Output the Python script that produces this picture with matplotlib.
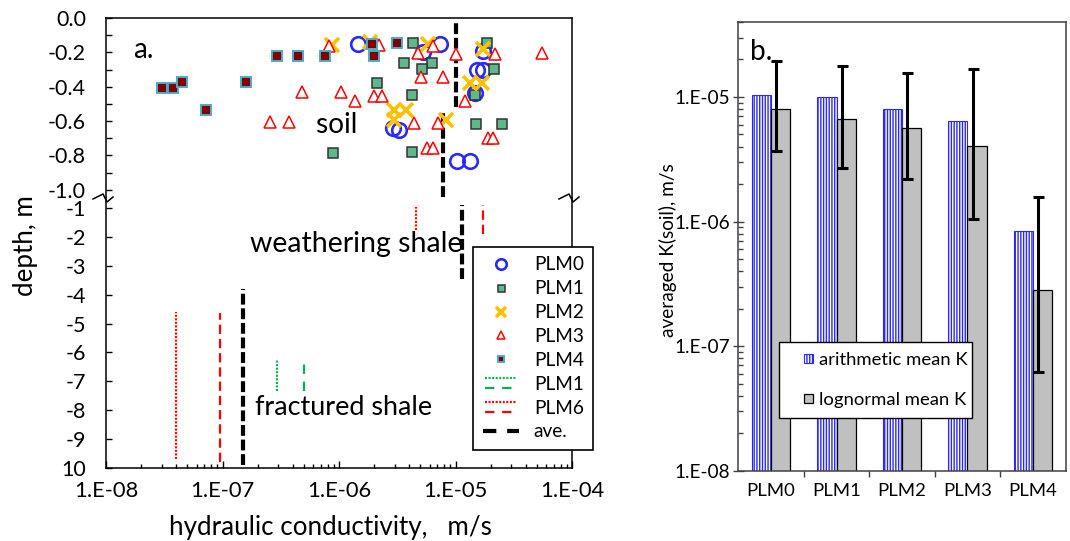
import numpy as np
import matplotlib
matplotlib.use("Agg")
import matplotlib.pyplot as plt
from matplotlib.lines import Line2D
from matplotlib.patches import Patch, Rectangle
from matplotlib.legend_handler import HandlerBase, HandlerPatch
from matplotlib.ticker import LogLocator, FuncFormatter, NullFormatter, FixedLocator

plt.rcParams['font.family'] = ['Lato', 'DejaVu Sans']
plt.rcParams['axes.unicode_minus'] = False
plt.rcParams['hatch.linewidth'] = 1.0

# ---- soil samples: hydraulic conductivity (m/s) and depth (m) ----
plm0_k = [1.47e-6, 5.30e-6, 7.36e-6, 1.73e-5, 1.52e-5, 1.73e-5, 1.47e-5,
          2.92e-6, 3.30e-6, 1.04e-5, 1.33e-5]
plm0_depth = [-0.15, -0.20, -0.15, -0.19, -0.30, -0.30, -0.435,
              -0.64, -0.65, -0.83, -0.83]

plm1_k = [4.30e-6, 3.64e-6, 6.25e-6, 5.13e-6, 2.13e-6, 4.26e-6, 8.93e-7,
          4.26e-6, 1.85e-5, 2.14e-5, 1.47e-5, 1.50e-5, 2.49e-5]
plm1_depth = [-0.147, -0.264, -0.264, -0.297, -0.38, -0.45, -0.785,
              -0.782, -0.147, -0.297, -0.448, -0.62, -0.62]

plm2_k = [8.65e-7, 1.85e-6, 5.85e-6, 1.71e-5, 1.33e-5, 1.68e-5,
          2.96e-6, 3.76e-6, 2.96e-6, 8.37e-6]
plm2_depth = [-0.157, -0.138, -0.151, -0.182, -0.38, -0.38,
              -0.536, -0.536, -0.594, -0.591]

plm3_k = [2.56e-7, 3.72e-7, 4.79e-7, 8.20e-7, 1.05e-6, 1.37e-6, 2.01e-6,
          2.33e-6, 2.22e-6, 4.80e-6, 6.44e-6, 1.01e-5, 2.18e-5, 5.56e-5,
          5.02e-6, 7.76e-6, 1.21e-5, 4.40e-6, 7.11e-6, 5.66e-6, 6.37e-6,
          1.91e-5, 2.11e-5]
plm3_depth = [-0.604, -0.604, -0.433, -0.163, -0.429, -0.483, -0.454,
              -0.454, -0.157, -0.206, -0.163, -0.211, -0.21, -0.206,
              -0.345, -0.345, -0.486, -0.612, -0.612, -0.754, -0.754,
              -0.701, -0.701]

plm4_k = [3.01e-8, 3.74e-8, 4.52e-8, 7.21e-8, 1.58e-7, 2.94e-7, 4.48e-7,
          7.59e-7, 1.91e-6, 2.01e-6, 3.16e-6]
plm4_depth = [-0.406, -0.406, -0.374, -0.536, -0.374, -0.221, -0.221,
              -0.221, -0.151, -0.22, -0.147]

# ---- averaged K over depth intervals ----
soil_ave_k = [1.0e-5, 7.85e-6]
soil_ave_top = [-0.02, -0.54]
soil_ave_bottom = [-0.52, -1.04]

rock_ave_k = [1.14e-5, 1.51e-7]
rock_ave_top = [-0.9, -3.8]
rock_ave_bottom = [-3.45, -9.9]

plm6_dot_k = [4.55e-6, 3.96e-8]
plm6_dot_top = [-0.95, -4.6]
plm6_dot_bottom = [-1.75, -9.7]

plm6_dash_k = [1.73e-5, 9.5e-8]
plm6_dash_top = [-0.9, -4.65]
plm6_dash_bottom = [-1.9, -9.8]

plm1_dot_k = [2.95e-7]
plm1_dash_k = [5.0e-7]
plm1_rock_top = [-6.25]
plm1_rock_bottom = [-7.35]

soil_ticks = [0.0, -0.2, -0.4, -0.6, -0.8, -1.0]
rock_ticks = [-1, -2, -3, -4, -5, -6, -7, -8, -9, -10]
rock_tick_labels = ['-1', '-2', '-3', '-4', '-5', '-6', '-7', '-8', '-9', '10']

# ---- panel b: averaged K(soil) per well ----
wells = ['PLM0', 'PLM1', 'PLM2', 'PLM3', 'PLM4']
arith_mean = [1.04e-5, 1.0e-5, 8.07e-6, 6.38e-6, 8.4e-7]
logn_mean = [8.07e-6, 6.7e-6, 5.68e-6, 4.02e-6, 2.81e-7]
logn_upper = [1.94e-5, 1.77e-5, 1.55e-5, 1.69e-5, 1.58e-6]
logn_lower = [3.71e-6, 2.71e-6, 2.21e-6, 1.05e-6, 6.22e-8]

W, H = 1070, 541
def pt(px):
    return px * 0.72

RED = '#FF0000'
GREEN = '#00B050'
BLUE = '#2A2AF5'
DOT = (0, (0.9, 0.7))
DASH = (0, (4.2, 2.2))
GDASH = (0, (4.2, 3.5))
AVE = (0, (2.6, 0.9))


def sci_label(v, pos):
    return "1.E-%02d" % round(-np.log10(v))


class StackedLines(HandlerBase):
    # two line styles drawn one above the other in a single legend row
    def create_artists(self, legend, orig_handle, xdescent, ydescent,
                       width, height, fontsize, trans):
        mid = -ydescent + height / 2
        out = []
        for (color, ls), dy in zip(orig_handle, (3.8, -3.8)):
            l = Line2D([-xdescent + 2, -xdescent + width - 2], [mid + dy, mid + dy],
                       color=color, linestyle=ls, linewidth=1.6)
            l.set_transform(trans)
            out.append(l)
        return out


def small_square(legend, orig_handle, xdescent, ydescent, width, height, fontsize):
    s = 0.5 * fontsize
    return Rectangle((width - s - xdescent, -ydescent + (height - s) / 2), s, s)


fig = plt.figure(figsize=(W / 100, H / 100), dpi=100)

# ---------------- panel a (broken depth axis) ----------------
ax_soil = fig.add_axes([106 / W, 1 - 198 / H, 466 / W, 180 / H])
ax_rock = fig.add_axes([106 / W, 1 - 468 / H, 466 / W, 270 / H], sharex=ax_soil)

ax_rock.set_xscale('log')
ax_rock.set_xlim(1e-8, 1e-4)
ax_soil.set_ylim(-1.048, 0)
ax_rock.set_ylim(-10, -0.654)

for ax in (ax_soil, ax_rock):
    for s in ax.spines.values():
        s.set_linewidth(1.1)
        s.set_color('black')
ax_soil.spines['bottom'].set_visible(False)
ax_rock.spines['top'].set_visible(False)

h0, = ax_soil.plot(plm0_k, plm0_depth, ls='none', marker='o', ms=10.5,
                   mfc='none', mec=BLUE, mew=1.9, zorder=3)
h1, = ax_soil.plot(plm1_k, plm1_depth, ls='none', marker='s', ms=7,
                   mfc='#5DB98A', mec='#333333', mew=1.1, zorder=3)
h2, = ax_soil.plot(plm2_k, plm2_depth, ls='none', marker='x', ms=10,
                   mec='#FFC000', mew=2.6, zorder=3)
h3, = ax_soil.plot(plm3_k, plm3_depth, ls='none', marker='^', ms=8.5,
                   mfc='white', mec=RED, mew=1.1, zorder=3)
h4, = ax_soil.plot(plm4_k, plm4_depth, ls='none', marker='s', ms=6.5,
                   mfc='#800000', mec='#4BACC6', mew=1.4, zorder=3)

ave_style = dict(colors='black', linewidths=3.0, linestyles=[AVE])
dot_w = 1.6
ax_soil.vlines(soil_ave_k, soil_ave_bottom, soil_ave_top, **ave_style)
ax_rock.vlines(rock_ave_k, rock_ave_bottom, rock_ave_top, **ave_style)
ax_rock.vlines(plm6_dot_k, plm6_dot_bottom, plm6_dot_top, colors=RED,
               linewidths=dot_w, linestyles=[DOT])
ax_rock.vlines(plm6_dash_k, plm6_dash_bottom, plm6_dash_top, colors=RED,
               linewidths=dot_w, linestyles=[DASH])
ax_rock.vlines(plm1_dot_k, plm1_rock_bottom, plm1_rock_top, colors=GREEN,
               linewidths=dot_w, linestyles=[DOT])
ax_rock.vlines(plm1_dash_k, plm1_rock_bottom, plm1_rock_top, colors=GREEN,
               linewidths=dot_w, linestyles=[GDASH])

# ticks
ax_soil.set_yticks(soil_ticks)
ax_soil.set_yticklabels([f"{v:.1f}" for v in soil_ticks])
ax_soil.yaxis.set_minor_locator(FixedLocator(np.arange(-0.9, 0, 0.2)))
ax_soil.tick_params(axis='x', which='both', bottom=False, top=False,
                    labelbottom=False)
ax_rock.set_yticks(rock_ticks)
ax_rock.set_yticklabels(rock_tick_labels)
for ax in (ax_soil, ax_rock):
    ax.tick_params(axis='y', which='both', direction='in', length=pt(6),
                   width=1.0, labelsize=pt(21.5), pad=pt(20))
ax_rock.xaxis.set_major_locator(LogLocator(base=10, numticks=10))
ax_rock.xaxis.set_minor_locator(LogLocator(base=10, subs=np.arange(2, 10), numticks=10))
ax_rock.xaxis.set_major_formatter(FuncFormatter(sci_label))
ax_rock.xaxis.set_minor_formatter(NullFormatter())
ax_rock.tick_params(axis='x', which='major', direction='in', length=pt(7),
                    width=1.0, labelsize=pt(22), pad=pt(13))
ax_rock.tick_params(axis='x', which='minor', direction='in', length=pt(4.5),
                    width=1.0)

# axis break marks
for xpx in (106, 572):
    zx = [xpx - 13, xpx - 3, xpx + 1, xpx + 7]
    zy = [198 + 1, 198 - 4, 198 + 4, 198 - 1]
    fig.add_artist(Line2D([x / W for x in zx], [1 - y / H for y in zy],
                          color='black', lw=1.1, transform=fig.transFigure))

ax_soil.text(0.058, 0.776, 'a.', transform=ax_soil.transAxes, fontsize=pt(28))
ax_soil.text(0.4506, 0.363, 'soil', transform=ax_soil.transAxes, fontsize=pt(28))
ax_rock.text(0.309, 0.80, 'weathering shale', transform=ax_rock.transAxes,
             fontsize=pt(28.5))
ax_rock.text(0.32, 0.196, 'fractured shale', transform=ax_rock.transAxes,
             fontsize=pt(27))

fig.text(25 / W, 1 - 246 / H, 'depth, m', rotation=90, ha='center', va='center',
         fontsize=pt(26))
fig.text(330 / W, 1 - 527 / H, 'hydraulic conductivity,   m/s', ha='center',
         va='center', fontsize=pt(26))

ave_h = Line2D([], [], color='black', lw=3.0, ls=(0, (3.2, 2.6)))
leg = ax_rock.legend([h0, h1, h2, h3, h4,
                      ((GREEN, DOT), (GREEN, GDASH)),
                      ((RED, DOT), (RED, GDASH)), ave_h],
                     ['PLM0', 'PLM1', 'PLM2', 'PLM3', 'PLM4', 'PLM1', 'PLM6', 'ave.'],
                     handler_map={tuple: StackedLines()},
                     loc='upper left', bbox_to_anchor=(473 / W, 1 - 247 / H),
                     bbox_transform=fig.transFigure, borderaxespad=0,
                     fontsize=pt(19), handlelength=1.9, handletextpad=0.8,
                     borderpad=0.5, labelspacing=0.36, fancybox=False,
                     framealpha=1, edgecolor='black', numpoints=1,
                     markerscale=0.72)
leg.get_frame().set_linewidth(1.2)
leg.set_zorder(5)

# ---------------- panel b ----------------
axb = fig.add_axes([738.3 / W, 1 - 470.7 / H, 327.4 / W, 448.7 / H])
x = np.arange(len(wells))
bw = 0.295
axb.bar(x - bw, arith_mean, width=bw, align='edge', color='white',
        edgecolor=BLUE, hatch='||||||', linewidth=0.8, zorder=2)
axb.bar(x, logn_mean, width=bw, align='edge', color='#C0C0C0',
        edgecolor='black', linewidth=0.9, zorder=2)
yerr = [np.array(logn_mean) - np.array(logn_lower),
        np.array(logn_upper) - np.array(logn_mean)]
axb.errorbar(x + 0.08, logn_mean, yerr=yerr, fmt='none', ecolor='black',
             elinewidth=2.2, capsize=pt(5.5), capthick=2.2, zorder=3)

axb.set_yscale('log')
axb.set_ylim(1e-8, 4e-5)
axb.set_xlim(-0.5, 4.5)
axb.yaxis.set_major_locator(LogLocator(base=10, numticks=10))
axb.yaxis.set_minor_locator(LogLocator(base=10, subs=np.arange(2, 10), numticks=10))
axb.yaxis.set_major_formatter(FuncFormatter(sci_label))
axb.yaxis.set_minor_formatter(NullFormatter())
axb.tick_params(axis='y', which='major', direction='inout', length=pt(11),
                width=1.0, labelsize=pt(19), pad=pt(3), color='#404040')
axb.tick_params(axis='y', which='minor', direction='in', length=pt(5),
                width=1.0, color='#404040')
axb.set_xticks(x)
axb.set_xticklabels(wells)
axb.xaxis.set_minor_locator(FixedLocator([0.5, 1.5, 2.5, 3.5]))
axb.tick_params(axis='x', which='major', length=0, labelsize=pt(18.5), pad=pt(12))
axb.tick_params(axis='x', which='minor', direction='out', length=pt(6),
                width=1.0, color='#404040')
for s in axb.spines.values():
    s.set_color('#404040')
    s.set_linewidth(1.1)

axb.text(0.036, 0.915, 'b.', transform=axb.transAxes, fontsize=pt(28))
fig.text(668 / W, 1 - 250 / H, 'averaged K(soil), m/s', rotation=90,
         ha='center', va='center', fontsize=pt(19))

p_arith = Patch(facecolor='white', edgecolor=BLUE, hatch='||||||', linewidth=0.8)
p_logn = Patch(facecolor='#C0C0C0', edgecolor='black', linewidth=0.9)
legb = axb.legend([p_arith, p_logn], ['arithmetic mean K', 'lognormal mean K'],
                  handler_map={Patch: HandlerPatch(patch_func=small_square)},
                  loc='upper left', bbox_to_anchor=(779 / W, 1 - 342 / H, 193 / W, 0),
                  bbox_transform=fig.transFigure, mode='expand', borderaxespad=0,
                  fontsize=pt(18.5), handlelength=1.3, handletextpad=0.33,
                  borderpad=0.55, labelspacing=1.3, fancybox=False,
                  framealpha=1, edgecolor='black')
legb.get_frame().set_linewidth(1.0)

fig.savefig('out.png', dpi=100)
